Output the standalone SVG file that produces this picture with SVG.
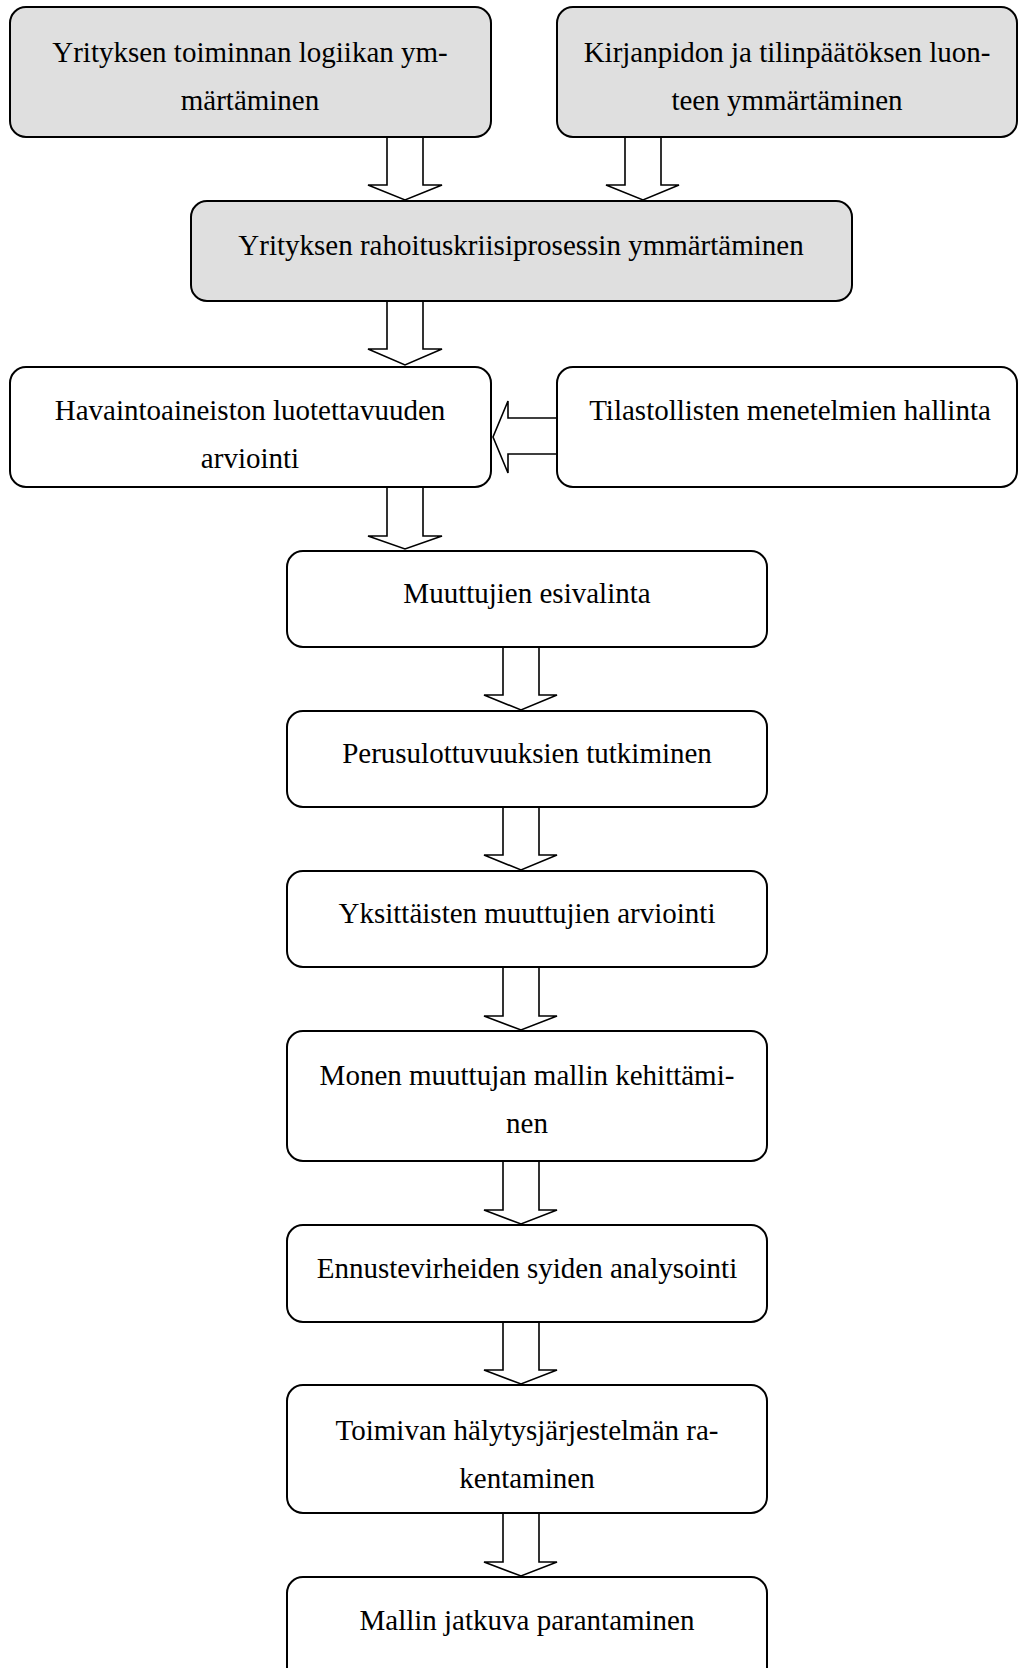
<svg xmlns="http://www.w3.org/2000/svg" width="1018" height="1668" viewBox="0 0 1018 1668">
<style>
.box{fill:#ffffff;stroke:#000;stroke-width:2}
.gray{fill:#dfdfdf}
.t{font-family:"Liberation Serif","Times New Roman",serif;font-size:29px;fill:#000;text-anchor:middle}
.arr{fill:#ffffff;stroke:#000;stroke-width:1.6;stroke-linejoin:miter}
</style>
<rect width="1018" height="1668" fill="#ffffff"/>
<g id="n1"><rect class="box gray" x="10" y="7" width="481" height="130" rx="16"/><text class="t" x="250" y="62">Yrityksen toiminnan logiikan ym-</text><text class="t" x="250" y="110">märtäminen</text></g>
<g id="n2"><rect class="box gray" x="557" y="7" width="460" height="130" rx="16"/><text class="t" x="787" y="62">Kirjanpidon ja tilinpäätöksen luon-</text><text class="t" x="787" y="110">teen ymmärtäminen</text></g>
<g id="n3"><rect class="box gray" x="191" y="201" width="661" height="100" rx="16"/><text class="t" x="521" y="255">Yrityksen rahoituskriisiprosessin ymmärtäminen</text></g>
<g id="n4"><rect class="box" x="10" y="367" width="481" height="120" rx="16"/><text class="t" x="250" y="420">Havaintoaineiston luotettavuuden</text><text class="t" x="250" y="468">arviointi</text></g>
<g id="n5"><rect class="box" x="557" y="367" width="460" height="120" rx="16"/><text class="t" x="790" y="420">Tilastollisten menetelmien hallinta</text></g>
<g id="n6"><rect class="box" x="287" y="551" width="480" height="96" rx="16"/><text class="t" x="527" y="603">Muuttujien esivalinta</text></g>
<g id="n7"><rect class="box" x="287" y="711" width="480" height="96" rx="16"/><text class="t" x="527" y="763">Perusulottuvuuksien tutkiminen</text></g>
<g id="n8"><rect class="box" x="287" y="871" width="480" height="96" rx="16"/><text class="t" x="527" y="923">Yksittäisten muuttujien arviointi</text></g>
<g id="n9"><rect class="box" x="287" y="1031" width="480" height="130" rx="16"/><text class="t" x="527" y="1085">Monen muuttujan mallin kehittämi-</text><text class="t" x="527" y="1133">nen</text></g>
<g id="n10"><rect class="box" x="287" y="1225" width="480" height="97" rx="16"/><text class="t" x="527" y="1278">Ennustevirheiden syiden analysointi</text></g>
<g id="n11"><rect class="box" x="287" y="1385" width="480" height="128" rx="16"/><text class="t" x="527" y="1440">Toimivan hälytysjärjestelmän ra-</text><text class="t" x="527" y="1488">kentaminen</text></g>
<g id="n12"><rect class="box" x="287" y="1577" width="480" height="110" rx="16"/><text class="t" x="527" y="1630">Mallin jatkuva parantaminen</text></g>
<g id="connectors">
<path class="arr" d="M387,138 V185 H368 L405,200 L442,185 H423 V138"/>
<path class="arr" d="M625,138 V185 H606 L643,200 L679,185 H661 V138"/>
<path class="arr" d="M387,302 V349 H368 L405,365 L442,349 H423 V302"/>
<path class="arr" d="M556,418 H508 V401 L493,437 L508,473 V454 H556"/>
<path class="arr" d="M387,488 V536 H368 L405,549 L442,536 H423 V488"/>
<path class="arr" d="M503,648 V695 H484 L521,710 L557,695 H539 V648"/>
<path class="arr" d="M503,808 V855 H484 L521,870 L557,855 H539 V808"/>
<path class="arr" d="M503,968 V1016 H484 L521,1030 L557,1016 H539 V968"/>
<path class="arr" d="M503,1162 V1210 H484 L521,1224 L557,1210 H539 V1162"/>
<path class="arr" d="M503,1323 V1370 H484 L521,1384 L557,1370 H539 V1323"/>
<path class="arr" d="M503,1514 V1562 H484 L521,1576 L557,1562 H539 V1514"/>
</g>
</svg>
